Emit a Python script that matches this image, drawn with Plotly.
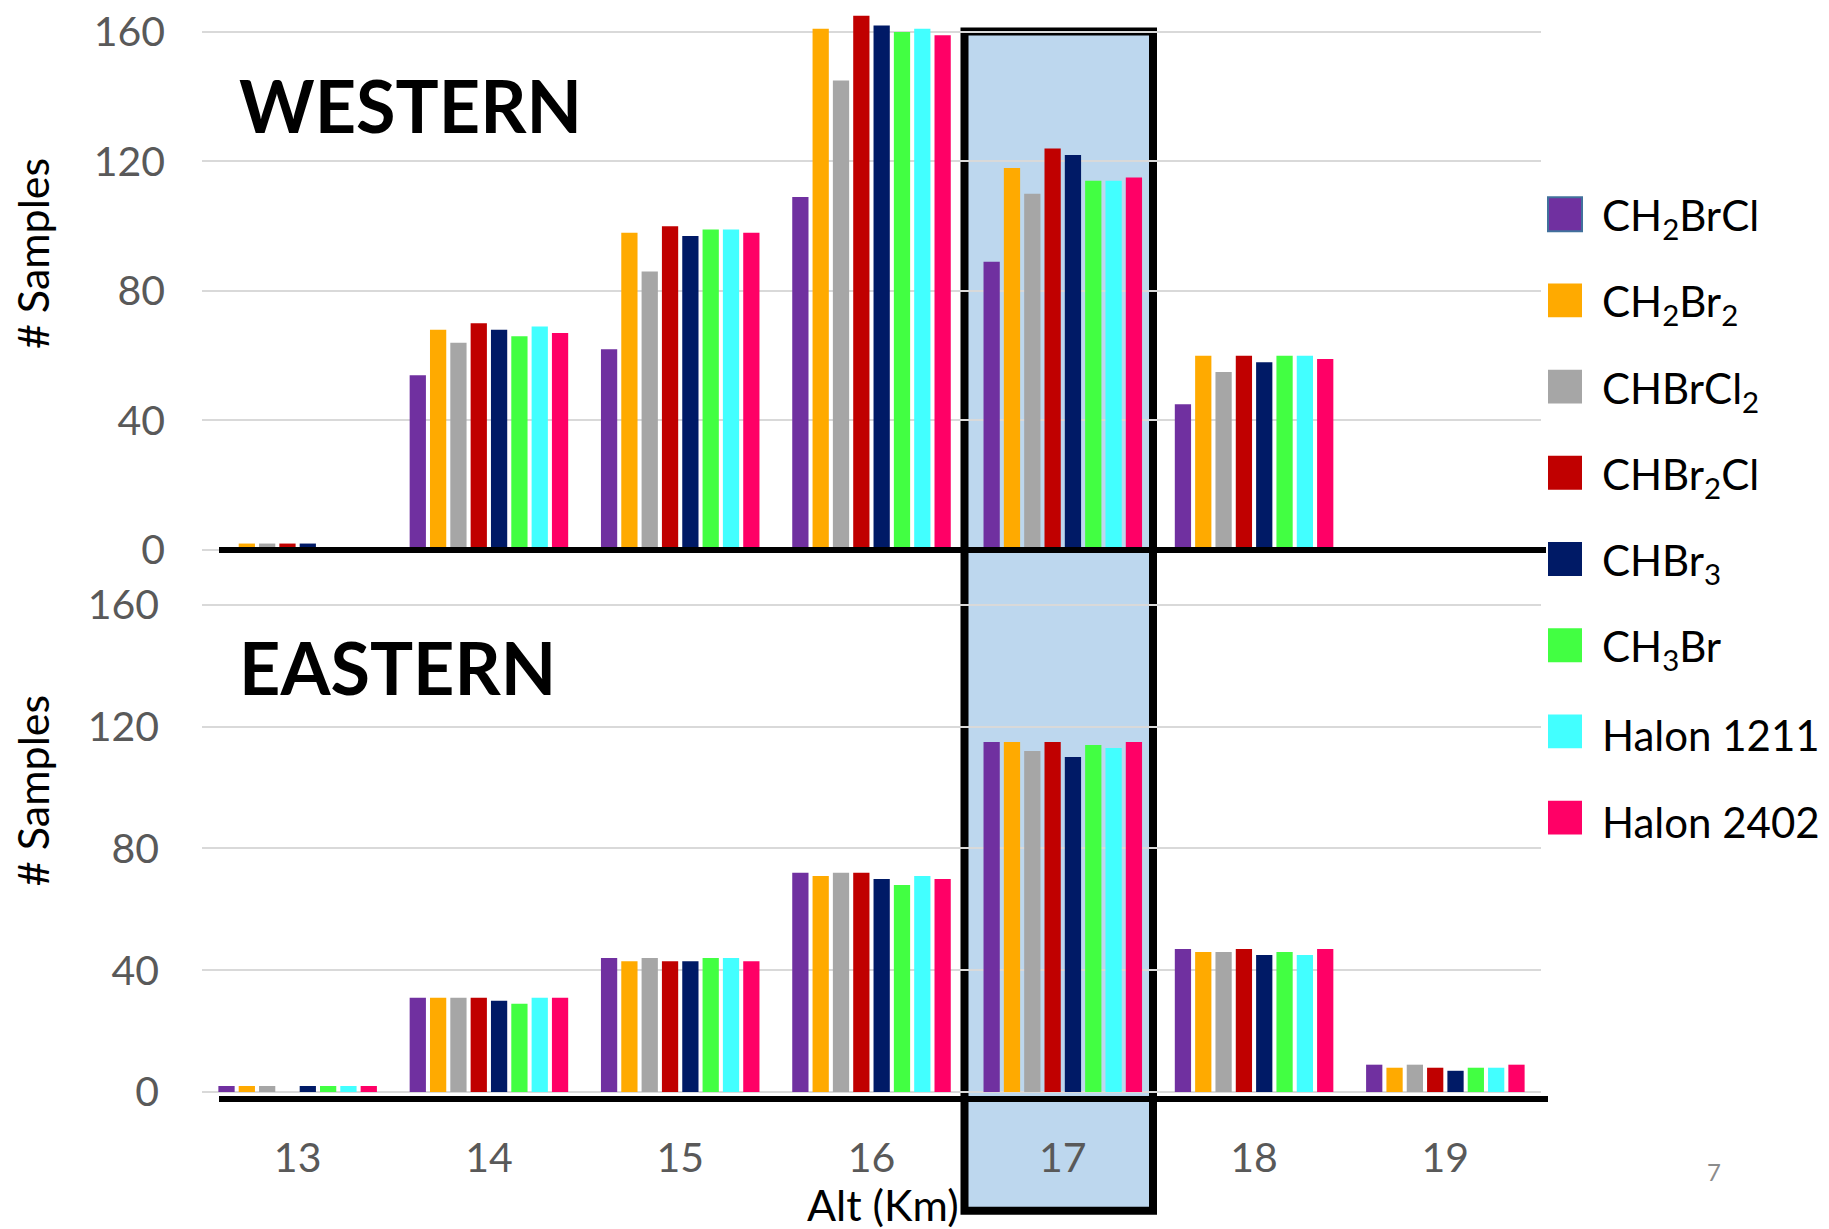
import plotly.graph_objects as go

# ---- data -------------------------------------------------------------
altitudes = [13, 14, 15, 16, 17, 18, 19]
altitude_labels = ["13", "14", "15", "16", "17", "18", "19"]

species = [
    "CH<sub>2</sub>BrCl",
    "CH<sub>2</sub>Br<sub>2</sub>",
    "CHBrCl<sub>2</sub>",
    "CHBr<sub>2</sub>Cl",
    "CHBr<sub>3</sub>",
    "CH<sub>3</sub>Br",
    "Halon 1211",
    "Halon 2402",
]
colors = ["#7030A0", "#FFAA00", "#A6A6A6", "#C00000",
          "#001A66", "#42FF42", "#42FFFF", "#FF0066"]

# Western samples per altitude bin
west_ch2brcl = [0, 54, 62, 109, 89, 45, 0]
west_ch2br2 = [2, 68, 98, 161, 118, 60, 0]
west_chbrcl2 = [2, 64, 86, 145, 110, 55, 0]
west_chbr2cl = [2, 70, 100, 165, 124, 60, 0]
west_chbr3 = [2, 68, 97, 162, 122, 58, 0]
west_ch3br = [0, 66, 99, 160, 114, 60, 0]
west_h1211 = [0, 69, 99, 161, 114, 60, 0]
west_h2402 = [0, 67, 98, 159, 115, 59, 0]

# Eastern samples per altitude bin
east_ch2brcl = [2, 31, 44, 72, 115, 47, 9]
east_ch2br2 = [2, 31, 43, 71, 115, 46, 8]
east_chbrcl2 = [2, 31, 44, 72, 112, 46, 9]
east_chbr2cl = [0, 31, 43, 72, 115, 47, 8]
east_chbr3 = [2, 30, 43, 70, 110, 45, 7]
east_ch3br = [2, 29, 44, 68, 114, 46, 8]
east_h1211 = [2, 31, 44, 71, 113, 45, 8]
east_h2402 = [2, 31, 43, 70, 115, 47, 9]

western = [west_ch2brcl, west_ch2br2, west_chbrcl2, west_chbr2cl,
           west_chbr3, west_ch3br, west_h1211, west_h2402]
eastern = [east_ch2brcl, east_ch2br2, east_chbrcl2, east_chbr2cl,
           east_chbr3, east_ch3br, east_h1211, east_h2402]

y_ticks = [0, 40, 80, 120, 160]

# ---- layout helpers (pixel -> paper) -----------------------------------
W, H = 1829, 1229
VSCALE = 1229 / 1249          # vertical scale of the page as displayed
FONT = "Lato, 'Open Sans', sans-serif"
GRID = "#D9D9D9"
TICK_GRAY = "#595959"


def px(x):
    return x / W


def py(y):
    return 1 - (y / VSCALE) / H


fig = go.Figure()

for name, color, w_vals, e_vals in zip(species, colors, western, eastern):
    fig.add_trace(go.Bar(x=altitudes, y=w_vals, name=name, marker_color=color,
                         marker_line_width=0, xaxis="x", yaxis="y",
                         showlegend=False))
    fig.add_trace(go.Bar(x=altitudes, y=e_vals, name=name, marker_color=color,
                         marker_line_width=0, xaxis="x2", yaxis="y2",
                         showlegend=False))

x_dom = [px(202), px(1541)]
top_rng = [0, 168]
bot_rng = [0, 168]
TOP_ZERO, TOP_UNIT = 551, 3.25       # pixel row of 0 and pixels per sample
BOT_ZERO, BOT_UNIT = 1095, 3.056

axis_font = dict(family=FONT, size=41, color=TICK_GRAY)

fig.update_layout(
    width=W, height=H,
    margin=dict(l=0, r=0, t=0, b=0),
    paper_bgcolor="white",
    plot_bgcolor="rgba(0,0,0,0)",
    barmode="group",
    bargap=0.15,
    bargroupgap=0.2,
    font=dict(family=FONT),
    xaxis=dict(domain=x_dom, range=[12.5, 19.5], anchor="y",
               showticklabels=False, showgrid=False, zeroline=False,
               showline=False, ticks=""),
    xaxis2=dict(domain=x_dom, range=[12.5, 19.5], anchor="y2", matches="x",
                tickvals=altitudes, ticktext=altitude_labels,
                tickfont=axis_font, ticklabelstandoff=38,
                showgrid=False, zeroline=False, showline=False, ticks=""),
    yaxis=dict(domain=[py(TOP_ZERO), py(TOP_ZERO - top_rng[1] * TOP_UNIT)],
               range=top_rng, anchor="x", tickvals=y_ticks,
               tickfont=axis_font, ticklabelstandoff=36, showgrid=True,
               gridcolor=GRID, gridwidth=2, zeroline=True,
               zerolinecolor=GRID, zerolinewidth=2, showline=False, ticks=""),
    yaxis2=dict(domain=[py(BOT_ZERO), py(BOT_ZERO - bot_rng[1] * BOT_UNIT)],
                range=bot_rng, anchor="x2", tickvals=y_ticks,
                tickfont=axis_font, ticklabelstandoff=42, showgrid=True,
                gridcolor=GRID, gridwidth=2, zeroline=True,
                zerolinecolor=GRID, zerolinewidth=2, showline=False, ticks=""),
)

shapes = [
    # highlighted 17 km band, spanning both panels
    dict(type="rect", xref="paper", yref="paper",
         x0=px(964.5), x1=px(1153), y0=py(1214), y1=py(30.5),
         fillcolor="#BDD7EE", line=dict(color="black", width=8),
         layer="below"),
    # heavy baselines
    dict(type="line", xref="paper", yref="paper",
         x0=px(219), x1=px(1546), y0=py(551), y1=py(551),
         line=dict(color="black", width=6)),
    dict(type="line", xref="paper", yref="paper",
         x0=px(219), x1=px(1548), y0=py(1102), y1=py(1102),
         line=dict(color="black", width=6)),
]

annotations = [
    dict(text="<b>WESTERN</b>", x=px(237), y=py(104), xanchor="left",
         yanchor="middle", font=dict(family=FONT, size=72, color="black")),
    dict(text="<b>EASTERN</b>", x=px(237), y=py(668), xanchor="left",
         yanchor="middle", font=dict(family=FONT, size=72, color="black")),
    dict(text="# Samples", x=px(32), y=py(254), textangle=-90,
         xanchor="center", yanchor="middle",
         font=dict(family=FONT, size=43, color="black")),
    dict(text="# Samples", x=px(32), y=py(793), textangle=-90,
         xanchor="center", yanchor="middle",
         font=dict(family=FONT, size=43, color="black")),
    dict(text="Alt (Km)", x=px(883), y=py(1208), xanchor="center",
         yanchor="middle", font=dict(family=FONT, size=43, color="black")),
    dict(text="7", x=px(1714), y=py(1175), xanchor="center",
         yanchor="middle", font=dict(family=FONT, size=24, color="#8C8C8C")),
]

# legend: colour squares with labels down the right side
for i, (name, color) in enumerate(zip(species, colors)):
    cy = 214 + i * 86.5
    shapes.append(dict(type="rect", xref="paper", yref="paper",
                       x0=px(1548), x1=px(1582), y0=py(cy + 17), y1=py(cy - 17),
                       fillcolor=color,
                       line=dict(color="#41719C" if i == 0 else color,
                                 width=2 if i == 0 else 0)))
    annotations.append(dict(text=name, x=px(1600), y=py(cy + 4),
                            xanchor="left", yanchor="middle",
                            font=dict(family=FONT, size=42, color="black")))

for a in annotations:
    a.update(xref="paper", yref="paper", showarrow=False)

fig.update_layout(shapes=shapes, annotations=annotations)

fig.write_html("out.html")
